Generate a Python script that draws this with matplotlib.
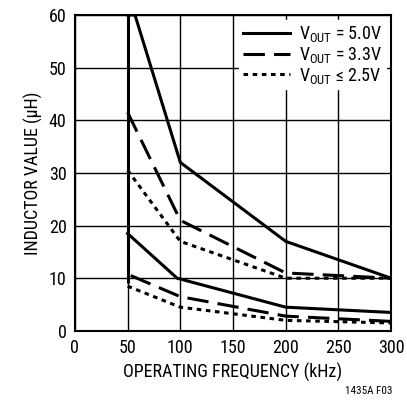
import matplotlib
matplotlib.use("Agg")
import matplotlib.pyplot as plt
from matplotlib import rc

rc('font', family=['Roboto Condensed', 'DejaVu Sans'], size=12)

# data
freq = [50, 100, 200, 300]
v50_hi_x = [57, 100, 200, 300]
v50_hi = [60, 32, 17, 10]
v50_lo_x = [50, 97, 200, 300]
v50_lo = [18.5, 10, 4.5, 3.5]
v33_hi = [41.5, 21, 11, 10]
v33_lo_x = [53, 100, 200, 300]
v33_lo = [10.5, 6.5, 2.8, 1.8]
v25_hi = [30.5, 17, 10, 10]
v25_lo = [8.5, 4.5, 2.0, 1.5]

fig = plt.figure(figsize=(4.07, 4.04), dpi=100)
ax = fig.add_axes([0.184, 0.181, 0.777, 0.782])
lw = 2.2
ax.plot([50, 50], [60, 10], color='k', lw=lw)
ax.plot([50, 50], [18.5, 9], color='k', lw=lw, ls=(0, (5, 2)))
ax.plot([50] + v50_hi_x, [60] + v50_hi, color='k', lw=lw, label=r'V$_{\mathregular{OUT}}$ = 5.0V')
ax.plot(v50_lo_x, v50_lo, color='k', lw=lw)
ax.plot(freq, v33_hi, color='k', lw=lw, ls=(0, (7, 3)), label=r'V$_{\mathregular{OUT}}$ = 3.3V')
ax.plot(v33_lo_x, v33_lo, color='k', lw=lw, ls=(0, (7, 3)))
ax.plot(freq, v25_hi, color='k', lw=lw, ls=(0, (1.5, 1.5)), label=r'V$_{\mathregular{OUT}}$ ≤ 2.5V')
ax.plot(freq, v25_lo, color='k', lw=lw, ls=(0, (1.5, 1.5)))

ax.set_xlim(0, 300)
ax.set_ylim(0, 60)
ax.set_xticks(range(0, 301, 50))
ax.set_yticks(range(0, 61, 10))
ax.grid(True, color='k', lw=1)
ax.tick_params(length=0, labelsize=13, pad=6)
for s in ax.spines.values():
    s.set_linewidth(1.5)
ax.set_xlabel('OPERATING FREQUENCY (kHz)', fontsize=13)
ax.set_ylabel('INDUCTOR VALUE (μH)', fontsize=13)
leg = ax.legend(loc='upper right', frameon=True, fancybox=False, framealpha=1,
                edgecolor='white', fontsize=13, handlelength=2.6, borderpad=0.2,
                labelspacing=0.05, handletextpad=0.5, borderaxespad=0.3)
fig.text(0.965, 0.02, '1435A F03', ha='right', va='bottom', fontsize=8)
plt.savefig('out.png', dpi=100)
